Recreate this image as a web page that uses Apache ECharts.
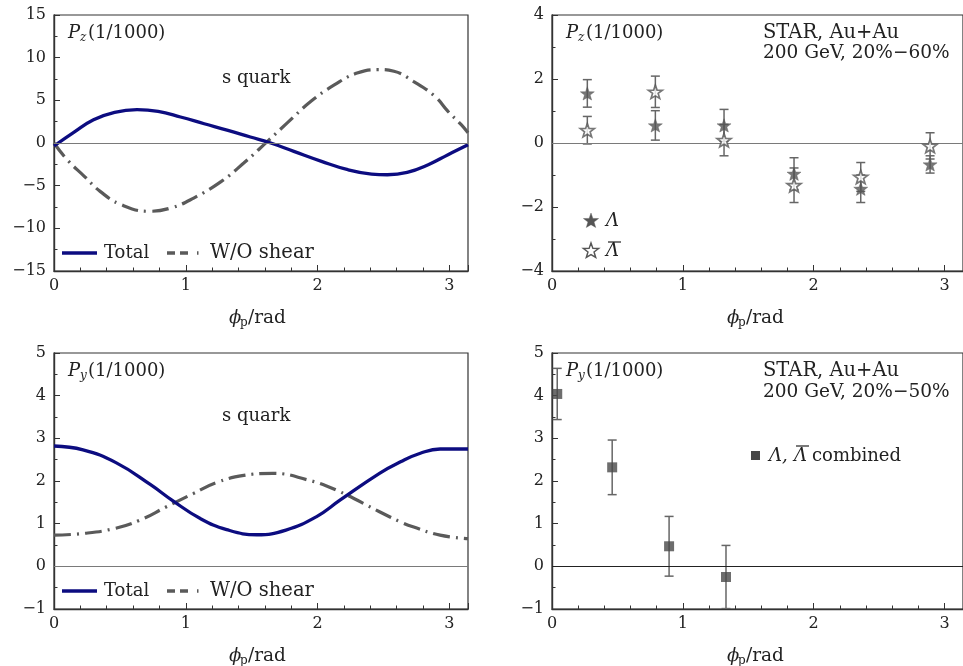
<!DOCTYPE html>
<html>
<head>
<meta charset="utf-8">
<script src="https://cdn.jsdelivr.net/npm/echarts@6/dist/echarts.min.js"></script>
<style>
  html, body { margin: 0; padding: 0; background: #fff; }
  #chart { width: 963px; height: 666px; }
</style>
</head>
<body>
<div id="chart"></div>
<script>
// ---- s-quark model curves: [phi_p, P] pairs ----
const pzTotal = [[0,-0.35],[0.15,1.25],[0.30,2.73],[0.46,3.6],[0.63,3.9],[0.79,3.7],[0.96,3.05],[1.14,2.26],[1.32,1.48],[1.49,0.7],[1.645,0],[1.82,-0.98],[2.03,-2.15],[2.23,-3.13],[2.41,-3.64],[2.53,-3.72],[2.68,-3.44],[2.84,-2.54],[2.99,-1.37],[3.1416,-0.2]];
const pzNoShear = [[0,0],[0.10,-1.96],[0.23,-3.9],[0.35,-5.67],[0.51,-7.23],[0.72,-8.0],[0.89,-7.6],[1.06,-6.45],[1.27,-4.5],[1.44,-2.35],[1.62,0.19],[1.77,2.35],[1.95,4.88],[2.13,6.83],[2.30,8.2],[2.46,8.6],[2.58,8.4],[2.73,7.2],[2.89,5.47],[2.99,3.7],[3.09,2.15],[3.1416,1.2]];
const pyTotal = [[0,2.82],[0.22,2.73],[0.47,2.43],[0.73,1.92],[0.90,1.54],[1.11,1.12],[1.31,0.86],[1.54,0.74],[1.76,0.85],[1.99,1.16],[2.17,1.55],[2.47,2.18],[2.63,2.45],[2.78,2.65],[2.93,2.75],[3.1416,2.75]];
const pyNoShear = [[0,0.73],[0.22,0.77],[0.45,0.88],[0.65,1.08],[0.85,1.39],[1.06,1.71],[1.23,1.96],[1.44,2.13],[1.66,2.18],[1.92,2.03],[2.14,1.79],[2.47,1.28],[2.63,1.04],[2.73,0.92],[2.93,0.73],[3.1416,0.65]];

// ---- STAR Au+Au 200 GeV, P_z (20%-60%) ----
const phiPz = [0.27, 0.79, 1.315, 1.85, 2.36, 2.89];
const lambdaPz = [1.55, 0.55, 0.55, -0.96, -1.43, -0.67];
const lambdaPzErr = [0.43, 0.46, 0.50, 0.50, 0.43, 0.27];
const antiLambdaPz = [0.40, 1.60, 0.09, -1.32, -1.06, -0.09];
const antiLambdaPzErr = [0.43, 0.49, 0.49, 0.54, 0.45, 0.41];

// ---- STAR Au+Au 200 GeV, P_y (20%-50%), Lambda + anti-Lambda combined ----
const phiPy = [0.04, 0.46, 0.895, 1.33];
const combinedPy = [4.04, 2.32, 0.47, -0.25];
const combinedPyErr = [0.60, 0.64, 0.70, 0.74];

// ---- axis ranges / ticks ----
const xRange = [0, Math.PI];
const yRanges = [[-15, 15, 5], [-4, 4, 2], [-1, 5, 1], [-1, 5, 1]];

const SERIF = '"DejaVu Serif", "Liberation Serif", serif';
const AXIS_COLOR = '#333';
const NAVY = '#0c0c80';
const GREY = '#5a5a5a';
const STAR_PTS = [[0,-10],[2.35,-3.24],[9.51,-3.09],[3.8,1.24],[5.88,8.09],[0,4.6],[-5.88,8.09],[-3.8,1.24],[-9.51,-3.09],[-2.35,-3.24]];
const STAR = 'path://M' + STAR_PTS.map(p => p[0] + ',' + p[1]).join('L') + 'Z';

const grids = [
  { left: 54, top: 15, width: 414, height: 256 },
  { left: 552, top: 15, width: 415, height: 256 },
  { left: 54, top: 353, width: 414, height: 256 },
  { left: 552, top: 353, width: 415, height: 256 }
].map(g => Object.assign({ show: true, borderColor: AXIS_COLOR, borderWidth: 1.2, containLabel: false }, g));

function fmt(v) {
  return v < 0 ? '\u2212' + Math.abs(v) : String(v);
}

const xAxes = grids.map((g, i) => ({
  type: 'value', gridIndex: i, min: xRange[0], max: xRange[1], interval: 1,
  axisLine: { show: true, onZero: false, lineStyle: { color: AXIS_COLOR, width: 1.4 } },
  axisTick: { show: true, inside: true, length: 6, lineStyle: { color: AXIS_COLOR, width: 1 } },
  minorTick: { show: true, splitNumber: 5, length: 3.5, lineStyle: { color: AXIS_COLOR, width: 1 } },
  splitLine: { show: false }, minorSplitLine: { show: false },
  axisLabel: { showMaxLabel: false, margin: 7, fontFamily: SERIF, fontSize: 16, color: '#222', formatter: fmt }
}));

const yAxes = grids.map((g, i) => ({
  type: 'value', gridIndex: i, min: yRanges[i][0], max: yRanges[i][1], interval: yRanges[i][2],
  axisLine: { show: true, onZero: false, lineStyle: { color: AXIS_COLOR, width: 1.4 } },
  axisTick: { show: true, inside: true, length: 6, lineStyle: { color: AXIS_COLOR, width: 1 } },
  minorTick: { show: true, splitNumber: 2, length: 3.5, lineStyle: { color: AXIS_COLOR, width: 1 } },
  splitLine: { show: false }, minorSplitLine: { show: false },
  axisLabel: { margin: 8, fontFamily: SERIF, fontSize: 16, color: '#222', formatter: fmt }
}));

function zeroLine(color) {
  return {
    silent: true, symbol: 'none', animation: false,
    label: { show: false },
    lineStyle: { color: color, width: 1, type: 'solid' },
    data: [{ yAxis: 0 }]
  };
}

function curve(idx, data, color, dashed, withZero) {
  const s = {
    type: 'line', xAxisIndex: idx, yAxisIndex: idx, data: data,
    smooth: 0.45, showSymbol: false, symbol: 'none', clip: true,
    lineStyle: dashed
      ? { color: GREY, width: 3.2, type: [17, 6, 2, 6] }
      : { color: color, width: 3.3 },
    z: dashed ? 3 : 4
  };
  if (withZero) s.markLine = zeroLine('#7a7a7a');
  return s;
}

function pairs(xs, ys, es) {
  return xs.map((x, i) => es ? [x, ys[i], es[i]] : [x, ys[i]]);
}

function errorBars(idx, data, color) {
  return {
    type: 'custom', xAxisIndex: idx, yAxisIndex: idx, data: data, clip: true, z: 2,
    encode: { x: 0, y: 1 },
    renderItem: function (params, api) {
      const x = api.value(0), y = api.value(1), e = api.value(2);
      const t = api.coord([x, y + e]);
      const b = api.coord([x, y - e]);
      const hw = 4.5;
      const st = { stroke: color, lineWidth: 1.5, fill: null };
      return {
        type: 'group', children: [
          { type: 'line', shape: { x1: t[0], y1: t[1], x2: b[0], y2: b[1] }, style: st },
          { type: 'line', shape: { x1: t[0] - hw, y1: t[1], x2: t[0] + hw, y2: t[1] }, style: st },
          { type: 'line', shape: { x1: b[0] - hw, y1: b[1], x2: b[0] + hw, y2: b[1] }, style: st }
        ]
      };
    }
  };
}

const series = [
  curve(0, pzNoShear, GREY, true, true),
  curve(0, pzTotal, NAVY, false, false),
  curve(2, pyNoShear, GREY, true, true),
  curve(2, pyTotal, NAVY, false, false),

  errorBars(1, pairs(phiPz, lambdaPz, lambdaPzErr), '#666'),
  errorBars(1, pairs(phiPz, antiLambdaPz, antiLambdaPzErr), '#666'),
  {
    type: 'scatter', xAxisIndex: 1, yAxisIndex: 1, data: pairs(phiPz, lambdaPz),
    symbol: STAR, symbolSize: 14, symbolKeepAspect: true, z: 5,
    itemStyle: { color: '#555', borderColor: '#555', borderWidth: 0.5 },
    markLine: zeroLine('#7a7a7a')
  },
  {
    type: 'scatter', xAxisIndex: 1, yAxisIndex: 1, data: pairs(phiPz, antiLambdaPz),
    symbol: STAR, symbolSize: 14, symbolKeepAspect: true, z: 6,
    itemStyle: { color: '#fff', borderColor: '#555', borderWidth: 1.7 }
  },

  errorBars(3, pairs(phiPy, combinedPy, combinedPyErr), '#666'),
  {
    type: 'scatter', xAxisIndex: 3, yAxisIndex: 3, data: pairs(phiPy, combinedPy),
    symbol: 'rect', symbolSize: 10, z: 5,
    itemStyle: { color: '#484848' },
    markLine: zeroLine('#222')
  }
];

// ---- text annotations and legends ----
function txt(x, y, s, size, italic, color) {
  return {
    type: 'text', x: x, y: y, silent: true, z: 50,
    style: {
      text: s, font: (italic ? 'italic ' : '') + size + 'px ' + SERIF,
      fill: color || '#222', textAlign: 'left', align: 'left',
      textVerticalAlign: 'middle', verticalAlign: 'middle'
    }
  };
}
function seg(x1, y1, x2, y2, color, width, dash) {
  return {
    type: 'line', silent: true, z: 50,
    shape: { x1: x1, y1: y1, x2: x2, y2: y2 },
    style: { stroke: color, lineWidth: width, lineDash: dash || null }
  };
}
function starIcon(cx, cy, fill, lw) {
  return {
    type: 'polygon', silent: true, z: 50, x: cx, y: cy, scaleX: 0.8, scaleY: 0.8,
    shape: { points: STAR_PTS }, style: { fill: fill, stroke: '#555', lineWidth: lw }
  };
}

const graphics = [];
const offsets = [[0, 0], [498, 0], [0, 338], [498, 338]];
const comps = ['z', 'z', 'y', 'y'];
offsets.forEach(([dx, dy], i) => {
  // panel quantity label P_z / P_y (1/1000)
  graphics.push(txt(68 + dx, 33 + dy, 'P', 18, true));
  graphics.push(txt(80 + dx, 38 + dy, comps[i], 12, true));
  graphics.push(txt(88 + dx, 33 + dy, '(1/1000)', 18, false));
  // x-axis title phi_p / rad
  graphics.push(txt(229 + dx, 318 + dy, '\u03d5', 18, true));
  graphics.push(txt(240 + dx, 323 + dy, 'p', 12, false));
  graphics.push(txt(248 + dx, 318 + dy, '/rad', 18.5, false));
});
[0, 338].forEach(dy => {
  graphics.push(txt(222, 78 + dy, 's quark', 18, false));
  graphics.push(seg(62, 253 + dy, 97, 253 + dy, NAVY, 3.5));
  graphics.push(txt(104, 253 + dy, 'Total', 18, false));
  graphics.push(seg(167, 253 + dy, 203, 253 + dy, GREY, 3.5, [8, 5, 8, 9, 1.5, 40]));
  graphics.push(txt(210, 253 + dy, 'W/O shear', 19.5, false));
});
graphics.push(txt(763, 33, 'STAR, Au+Au', 19.5, false));
graphics.push(txt(763, 53, '200 GeV, 20%\u221260%', 18.5, false));
graphics.push(txt(763, 371, 'STAR, Au+Au', 19.5, false));
graphics.push(txt(763, 392, '200 GeV, 20%\u221250%', 18.5, false));

// P_z legend: Lambda (filled star), anti-Lambda (open star)
graphics.push(starIcon(591, 221, '#555', 0.5));
graphics.push(txt(606, 221, '\u039b', 18, true));
graphics.push(starIcon(591, 251, '#fff', 1.8));
graphics.push(txt(606, 251, '\u039b', 18, true));
graphics.push(seg(608, 242, 621, 242, '#222', 1.2));

// P_y legend: combined square marker
graphics.push({
  type: 'rect', silent: true, z: 50, shape: { x: 751, y: 451, width: 9, height: 9 },
  style: { fill: '#484848' }
});
graphics.push(txt(769, 456, '\u039b,', 18, true));
graphics.push(txt(794, 456, '\u039b', 18, true));
graphics.push(seg(796, 446, 809, 446, '#222', 1.2));
graphics.push(txt(812, 456, 'combined', 18, false));

const chart = echarts.init(document.getElementById('chart'), null, { renderer: 'canvas' });
chart.setOption({
  animation: false,
  backgroundColor: '#fff',
  grid: grids,
  xAxis: xAxes,
  yAxis: yAxes,
  series: series,
  graphic: graphics
});
</script>
</body>
</html>
